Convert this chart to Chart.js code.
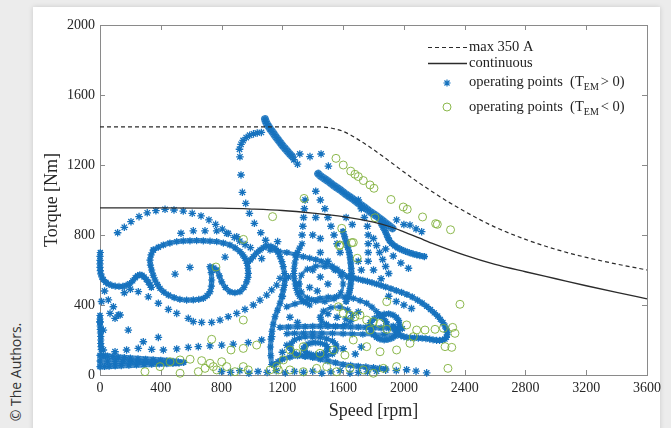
<!DOCTYPE html>
<html><head><meta charset="utf-8">
<script src="https://cdn.jsdelivr.net/npm/chart.js@4/dist/chart.umd.min.js"></script>
<style>
html,body{margin:0;padding:0;width:671px;height:428px;overflow:hidden;background:#ececec;}
#card{position:absolute;left:33px;top:7px;width:627px;height:430px;background:#fff;box-shadow:0 0 5px rgba(0,0,0,0.15);}
#wrap{position:absolute;left:0;top:0;width:671px;height:428px;}
#copy{position:absolute;left:15px;top:372px;transform:translate(-50%,-50%) rotate(-90deg);font-family:"Open Sans";font-size:14px;color:#333;white-space:nowrap;}
</style></head>
<body>
<div id="card"></div>
<div id="copy">© The Authors.</div>
<div id="wrap"><canvas id="c" width="671" height="428"></canvas></div>
<script>
// ---- axis ticks ----
const speedTicks = [0,400,800,1200,1600,2000,2400,2800,3200,3600];
const torqueTicks = [0,400,800,1200,1600,2000];

// ---- limit curves ----
const maxSpeed  = [0,400,800,1200,1400,1500,1600,1700,1800,1900,2000,2100,2200,2300,2400,2500,2600,2800,3000,3200,3400,3600];
const maxTorque = [1418,1418,1418,1418,1418,1414,1392,1345,1288,1225,1160,1098,1040,985,935,888,845,775,718,672,634,600];
const contSpeed  = [0,400,800,1000,1200,1400,1600,1800,1900,2000,2100,2200,2400,2600,2800,3000,3200,3400,3600];
const contTorque = [955,955,953,948,940,925,905,873,850,818,783,748,685,632,590,550,510,472,435];

// ---- operating points, T_EM > 0 (dense traces) ----
const posBandHigh = [[1086,1462],[1090,1450],[1098,1436],[1108,1422],[1120,1406],[1132,1392],[1146,1375],[1160,1358],[1174,1342],[1188,1326],[1202,1310],[1218,1294],[1234,1278],[1250,1262],[1264,1250]];
const posBandMid = [[1436,1150],[1455,1135],[1480,1120],[1500,1108],[1520,1095],[1540,1082],[1560,1070],[1580,1058],[1600,1045],[1620,1032],[1640,1020],[1660,1008],[1680,995],[1700,982],[1720,970],[1740,958],[1760,945],[1780,932],[1800,920],[1820,908],[1840,895],[1860,882],[1880,868],[1900,855],[1925,838]];
const posTailRight = [[1850,865],[1862,845],[1875,825],[1885,805],[1895,785],[1905,768],[1920,752],[1940,738],[1960,727],[1985,716],[2010,707],[2035,699],[2060,692],[2085,686],[2105,682],[2135,677]];
const posMainLoop = [[351,714],[384,730],[417,743],[460,754],[505,762],[548,766],[592,767],[636,768],[680,767],[724,765],[768,762],[812,754],[855,743],[890,726],[921,705],[940,686],[954,667],[969,638],[990,658],[1009,676],[1030,697],[1053,714],[1075,728],[1097,737],[1125,735],[1152,724],[1170,703],[1185,676],[1197,648],[1206,619],[1214,580],[1217,543],[1213,512],[1206,486],[1197,448],[1185,410],[1168,370],[1152,333],[1140,290],[1132,250],[1126,205],[1122,160],[1124,110],[1130,60]];
const posLoopLower = [[351,714],[336,686],[329,657],[332,628],[340,600],[350,570],[362,543],[378,518],[395,495],[420,474],[450,457],[488,442],[526,432],[570,428],[614,429],[650,432],[680,438],[705,454],[724,476],[733,508],[735,543],[732,585],[724,619],[748,612],[768,600],[786,566],[801,532],[825,500],[855,476],[888,470],[921,476],[947,500],[965,532],[974,558],[976,581],[973,610],[969,638]];
const posWave = [[2,700],[0,678],[0,655],[0,635],[0,615],[2,596],[5,578],[12,560],[22,545],[38,530],[55,520],[78,512],[100,508],[125,506],[150,506],[172,512],[195,522],[215,538],[232,556],[248,568],[262,573],[276,570],[290,560],[305,546],[318,530],[330,514],[338,500]];
const posLeftEdge = [[0,340],[0,320],[0,300],[1,280],[2,260],[3,240],[5,220],[5,200],[5,180],[7,162],[8,145]];
const posCigarTop = [[0,112],[25,110],[50,108],[85,105],[120,102],[160,99],[200,96],[250,93],[300,90],[350,87],[400,84],[440,81],[480,78],[515,75],[550,72]];
const posCigarMid = [[0,80],[50,79],[100,78],[150,77],[200,76],[250,75],[300,74],[350,73],[400,72],[450,71],[500,70]];
const posCigarLow = [[0,48],[30,49],[60,50],[100,52],[140,54],[190,56],[240,58],[290,60],[340,62],[390,64],[440,65],[480,67],[520,68]];
const posRightD = [[1640,560],[1670,554],[1700,548],[1730,541],[1760,535],[1790,528],[1820,520],[1850,512],[1880,503],[1915,493],[1950,482],[1985,472],[2020,460],[2055,446],[2090,428],[2120,411],[2150,392],[2175,374],[2200,355],[2222,337],[2240,318],[2257,300],[2270,280],[2280,262],[2285,245],[2285,230],[2280,215],[2270,205],[2255,200],[2235,198],[2215,198],[2192,201],[2170,205],[2145,208],[2120,210],[2095,211],[2070,212],[2045,213],[2020,215],[2000,219],[1980,225],[1962,234],[1950,245],[1938,262],[1930,280]];
const posHBandA = [[1185,272],[1240,274],[1300,276],[1350,277],[1400,278],[1450,278],[1500,278],[1550,277],[1600,276],[1650,275],[1700,274],[1750,272],[1800,270],[1850,269],[1900,268],[1945,266],[1990,265]];
const posHBandB = [[1230,236],[1280,238],[1340,239],[1400,240],[1460,239],[1530,238],[1600,236],[1660,235],[1730,233],[1800,232],[1870,231],[1950,230]];
const posTrunk = [[1600,820],[1610,790],[1620,760],[1630,730],[1640,700],[1646,670],[1650,640],[1653,610],[1655,580],[1653,550],[1650,520],[1646,495],[1640,470],[1630,445],[1620,420]];
const posMidArc = [[1229,390],[1283,406],[1338,419],[1393,430],[1448,438],[1502,445],[1557,448],[1612,445],[1667,438],[1712,425],[1755,410],[1790,388],[1821,362],[1845,342],[1865,324],[1880,306],[1890,290]];
const posSmallLoopA = [[1250,160],[1260,182],[1280,200],[1312,212],[1350,218],[1400,218],[1450,215],[1492,207],[1530,195],[1550,178],[1558,160],[1550,138],[1530,120],[1492,110],[1450,105],[1400,105],[1350,108],[1312,115],[1280,125],[1260,140],[1250,160]];
const posSmallLoopB = [[1340,150],[1350,166],[1370,178],[1395,184],[1420,185],[1450,182],[1480,175],[1495,163],[1500,150],[1490,135],[1470,122],[1445,116],[1420,115],[1390,118],[1365,125],[1348,136],[1340,150]];
const posLoopC = [[1780,300],[1805,322],[1840,340],[1870,348],[1900,350],[1928,343],[1950,330],[1965,312],[1970,290],[1968,265],[1960,240],[1942,222],[1920,210],[1895,203],[1870,200],[1843,205],[1820,215],[1800,230],[1785,250],[1778,275],[1780,300]];
const posLoopD = [[1310,520],[1325,570],[1365,605],[1420,622],[1480,620],[1540,605],[1585,570],[1600,520],[1585,470],[1540,435],[1480,420],[1420,422],[1365,440],[1325,475],[1310,520]];
const posLoopE = [[1450,330],[1470,365],[1520,385],[1580,388],[1630,372],[1660,340],[1650,305],[1610,285],[1550,280],[1490,290],[1458,308],[1450,330]];
const posUpperMid = [[1119,714],[1175,707],[1230,700],[1285,688],[1338,676],[1380,668],[1420,660],[1456,650],[1492,638],[1528,622],[1560,605],[1594,585],[1624,562]];
const posLeftCentral = [[1330,750],[1313,725],[1300,700],[1290,670],[1282,640],[1278,610],[1276,580],[1279,550],[1285,520],[1291,495],[1300,470],[1313,450],[1330,430],[1355,414],[1380,400]];
const posBottomMass = [[1150,60],[1172,76],[1200,90],[1250,102],[1300,110],[1350,106],[1400,100],[1450,90],[1500,80],[1550,70],[1600,60],[1650,55],[1700,50],[1750,46],[1800,42],[1840,38],[1880,35]];

// ---- operating points, T_EM > 0 (sparse traces) ----
const posOuterArc = [[116,813],[160,844],[204,876],[257,905],[311,927],[368,939],[428,947],[487,943],[548,937],[607,924],[665,909],[717,886],[761,861],[805,834],[844,809],[884,786],[920,765],[955,745],[990,728]];
const posSecondRow = [[533,810],[614,824],[691,824],[768,824],[834,810],[900,790],[1169,762]];
const posColumn = [[1090,770],[1058,813],[1016,867],[983,924],[959,981],[937,1044],[928,1143],[921,1247],[918,1290],[928,1318],[942,1340],[962,1357],[985,1370],[1010,1378],[1035,1383],[1062,1386]];
const posLowerArc = [[252,476],[318,447],[384,410],[450,375],[505,352],[581,324],[614,305],[669,301],[735,301],[790,314],[844,333],[900,352],[954,375],[1009,400],[1053,428],[1097,457],[1130,486],[1163,514],[1185,552]];
const posLeftScatter = [[0,305],[22,257],[66,352],[99,324],[132,343],[55,429],[88,390],[121,343],[186,257],[285,190],[384,215],[30,480],[160,470],[200,490],[10,420]];
const posRowAboveCigar = [[22,143],[99,133],[175,143],[252,152],[340,147],[417,143],[505,149],[581,158],[647,162],[724,166],[801,171],[877,177],[976,185],[1064,200],[1130,219]];
const posIsolated = [[494,577],[592,615],[823,674],[1064,665],[1315,1263],[1455,1263],[1382,1248],[1503,1194],[1276,1230],[1300,1205]];
const posBottomRow = [[800,20],[860,15],[920,25],[980,10],[1040,20],[1100,15],[1160,25],[1220,12],[1280,20],[1340,15],[1400,22],[1460,10],[1520,18],[1580,25],[1645,11],[1700,15],[1760,18],[1820,22],[1880,28],[1950,25],[2018,30],[2080,22],[2150,12]];
const posCentralDots = [[1350,1000],[1345,950],[1340,900],[1335,850],[1330,800],[1420,1050],[1450,1000],[1480,950],[1500,900],[1520,850],[1540,800],[1560,750],[1580,700],[1700,1000],[1720,950],[1740,900],[1760,850],[1765,800],[1765,750],[1765,700],[1765,650],[1800,780],[1820,740],[1840,700],[1860,660],[1880,620],[1900,580],[1952,886],[2000,860],[2040,857],[2080,835],[2117,819],[1400,600],[1450,560],[1500,520],[1450,700],[1500,650],[1550,600],[1380,500],[1430,480],[1700,650],[1720,600],[1800,600],[1850,550],[1900,450],[1950,420],[2000,400],[2050,380],[1500,350],[1560,330],[1620,320],[1700,360],[1250,330],[1300,300],[1200,450],[1240,560],[1400,800],[1450,780],[1620,900],[1660,860],[1420,900],[1880,720],[1930,680],[1980,640],[2030,610],[1230,170],[1200,130],[1600,150],[1680,120],[1720,160]];

// ---- operating points, T_EM < 0 ----
const negTop = [[1553,1238],[1601,1200],[1650,1165],[1678,1147],[1700,1134],[1733,1111],[1777,1086],[1803,1067],[1343,1009],[1915,1003],[1996,960],[2022,947],[2123,903],[2209,865],[2220,861],[2307,830],[1136,905],[944,775],[763,617],[1591,838],[1810,899],[1667,757],[1575,738]];
const negMid = [[1656,756],[1693,667],[1579,743],[1887,419],[2369,404],[1569,390],[1601,352],[1645,343],[1678,333],[1711,343],[1755,314],[1799,305],[1843,295],[1777,257],[1887,261],[2018,286],[2084,257],[2139,257],[2205,261],[2260,267],[2321,272],[2336,238],[2271,162],[2315,158],[2062,219],[2040,181],[1952,143],[1843,133],[1755,162],[1667,200],[1612,114],[1536,143],[1448,124],[1338,162],[1294,124],[1250,143]];
const negLow = [[1207,86],[1163,48],[1250,29],[1338,19],[1426,38],[1492,48],[1558,19],[1645,38],[1733,29],[1799,10],[1865,38],[1952,48],[2290,38],[296,19],[395,48],[461,76],[527,86],[593,90],[669,82],[735,204],[746,48],[647,19],[801,76],[862,143],[943,314],[943,152],[1031,171],[943,48],[976,29],[1119,29],[1174,29],[527,10],[691,38],[724,67],[768,29],[834,48],[888,19]];

const BLUE = 'rgb(22,114,190)';
const GREEN = 'rgba(128,176,58,0.9)';
const LINEC = '#2b2b2b';
const SERIF = '"Liberation Serif", "Times New Roman", serif';

const toXY = a => a.map(p => ({x:p[0], y:p[1]}));
const zip = (xs, ys) => xs.map((x,i) => ({x, y: ys[i]}));

const denseTraces = [[posBandHigh,8],[posBandMid,8],[posTailRight,6],[posMainLoop,5],[posLoopLower,5],[posWave,5],[posLeftEdge,5],[posCigarTop,6],[posCigarMid,6],[posCigarLow,6],[posRightD,5],[posHBandA,5],[posHBandB,4],[posTrunk,6],[posMidArc,4],[posSmallLoopA,4],[posSmallLoopB,4],[posLoopC,5],[posLoopD,3],[posLoopE,3],[posUpperMid,4],[posLeftCentral,4],[posBottomMass,5]];
const sparseTraces = [posOuterArc,posSecondRow,posColumn,posLowerArc,posLeftScatter,posRowAboveCigar,posIsolated,posBottomRow,posCentralDots];
const negTraces = [negTop,negMid,negLow];

const datasets = [];
datasets.push({type:'line', data: zip(maxSpeed,maxTorque), borderColor:LINEC, borderWidth:1.2, borderDash:[4,3], pointRadius:0, fill:false, cubicInterpolationMode:'monotone', order:0, clip:false});
datasets.push({type:'line', data: zip(contSpeed,contTorque), borderColor:LINEC, borderWidth:1.3, pointRadius:0, fill:false, cubicInterpolationMode:'monotone', order:0, clip:false});
negTraces.forEach(t => datasets.push({type:'scatter', data: toXY(t), showLine:false, pointStyle:'circle', pointRadius:4, pointBorderWidth:1, pointBorderColor:GREEN, pointBackgroundColor:'rgba(0,0,0,0)', order:1, clip:false}));
denseTraces.forEach(([t,w]) => datasets.push({type:'line', data: toXY(t), fill:false, tension:0.3, borderColor:'rgba(22,114,190,0.8)', borderWidth:w, borderCapStyle:'round', borderJoinStyle:'round', pointStyle:'star', pointRadius:3.6, pointBorderWidth:1.2, pointBorderColor:BLUE, pointBackgroundColor:BLUE, order:2, clip:false}));
sparseTraces.forEach(t => datasets.push({type:'scatter', data: toXY(t), showLine:false, pointStyle:'star', pointRadius:3.8, pointBorderWidth:1.3, pointBorderColor:BLUE, pointBackgroundColor:BLUE, order:2, clip:false}));

const framePlugin = {
  id:'frame',
  beforeDatasetsDraw(chart){
    const {ctx, chartArea:a, scales:{x, y}} = chart;
    ctx.save();
    ctx.strokeStyle = '#8a8a8a';
    ctx.lineWidth = 1;
    ctx.strokeRect(Math.round(a.left)+0.5, Math.round(a.top)+0.5, Math.round(a.right-a.left), Math.round(a.bottom-a.top));
    ctx.beginPath();
    speedTicks.forEach(v => {
      const px = Math.round(x.getPixelForValue(v))+0.5;
      ctx.moveTo(px, a.bottom); ctx.lineTo(px, a.bottom-5);
      ctx.moveTo(px, a.top); ctx.lineTo(px, a.top+5);
    });
    torqueTicks.forEach(v => {
      const py = Math.round(y.getPixelForValue(v))+0.5;
      ctx.moveTo(a.left, py); ctx.lineTo(a.left+5, py);
      ctx.moveTo(a.right, py); ctx.lineTo(a.right-5, py);
    });
    ctx.stroke();
    ctx.restore();
  }
};

const legendPlugin = {
  id:'customLegend',
  afterDraw(chart){
    const ctx = chart.ctx;
    ctx.save();
    ctx.strokeStyle = LINEC;
    ctx.lineWidth = 1.2;
    ctx.setLineDash([4,3]);
    ctx.beginPath(); ctx.moveTo(428,47.5); ctx.lineTo(467,47.5); ctx.stroke();
    ctx.setLineDash([]);
    ctx.lineWidth = 1.3;
    ctx.beginPath(); ctx.moveTo(428,63.5); ctx.lineTo(467,63.5); ctx.stroke();
    ctx.strokeStyle = BLUE; ctx.fillStyle = BLUE; ctx.lineWidth = 1.2;
    Chart.helpers.drawPoint(ctx, {pointStyle:'star', radius:3.6, rotation:0, borderWidth:1.2}, 447, 83);
    ctx.strokeStyle = GREEN; ctx.lineWidth = 1;
    ctx.beginPath(); ctx.arc(447, 107, 4, 0, Math.PI*2); ctx.stroke();

    ctx.fillStyle = '#222';
    ctx.textBaseline = 'middle';
    ctx.textAlign = 'left';
    const big = '14.5px ' + SERIF, small = '10px ' + SERIF;
    ctx.font = big;
    ctx.fillText('max 350 A', 469, 47);
    ctx.fillText('continuous', 469, 63);
    const drawOp = (yy, sign) => {
      ctx.font = big;
      let xx = 469;
      const s1 = 'operating points  (T';
      ctx.fillText(s1, xx, yy); xx += ctx.measureText(s1).width;
      ctx.font = small;
      ctx.fillText('EM', xx, yy + 5); xx += ctx.measureText('EM').width + 2;
      ctx.font = big;
      ctx.fillText(sign + ' 0)', xx, yy);
    };
    drawOp(82, '>');
    drawOp(107, '<');
    ctx.restore();
  }
};

new Chart(document.getElementById('c'), {
  type:'scatter',
  data:{datasets},
  options:{
    responsive:false,
    animation:false,
    events:[],
    layout:{padding:{left:30, top:25, right:24, bottom:0}},
    plugins:{legend:{display:false}, tooltip:{enabled:false}},
    scales:{
      x:{
        type:'linear', min:0, max:3600,
        afterBuildTicks: s => { s.ticks = speedTicks.map(v => ({value:v})); },
        afterFit: s => { s.height = 53; },
        grid:{display:false, drawTicks:false},
        border:{display:false},
        ticks:{padding:5, color:'#262626', font:{family:SERIF, size:14}, maxRotation:0, autoSkip:false, callback: v => String(v)},
        title:{display:true, text:'Speed [rpm]', color:'#262626', font:{family:SERIF, size:18}, padding:{top:0, bottom:6}}
      },
      y:{
        type:'linear', min:0, max:2000,
        afterBuildTicks: s => { s.ticks = torqueTicks.map(v => ({value:v})); },
        afterFit: s => { s.width = 70; },
        grid:{display:false, drawTicks:false},
        border:{display:false},
        ticks:{padding:5, color:'#262626', font:{family:SERIF, size:14}, callback: v => String(v)},
        title:{display:true, text:'Torque [Nm]', color:'#262626', font:{family:SERIF, size:18}, padding:{top:11, bottom:0}}
      }
    }
  },
  plugins:[framePlugin, legendPlugin]
});
</script>
</body></html>
